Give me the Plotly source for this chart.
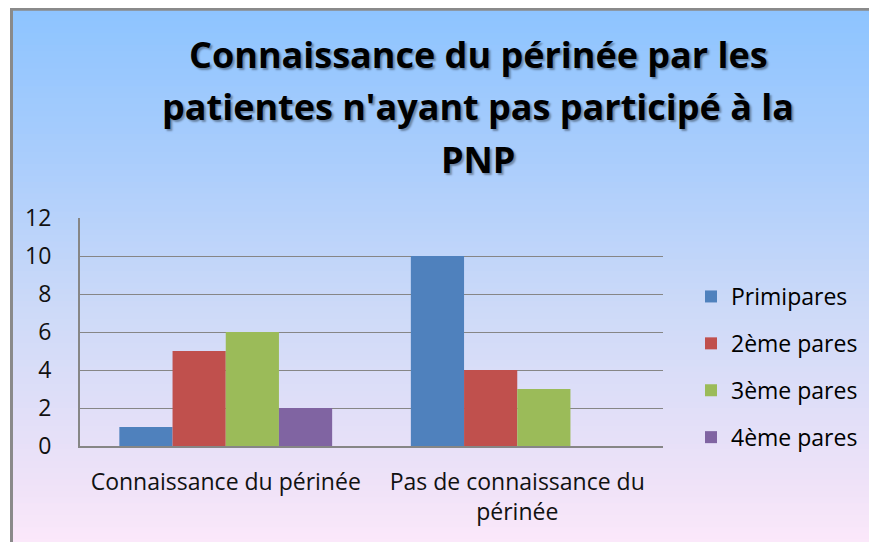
import plotly.graph_objects as go

# ---------------- data ----------------
categories = ["Connaissance du périnée", "Pas de connaissance du périnée"]
tick_labels = ["Connaissance du périnée", "Pas de connaissance du<br>périnée"]
series_names = ["Primipares", "2ème pares", "3ème pares", "4ème pares"]
primipares = [1, 10]
deuxieme = [5, 4]
troisieme = [6, 3]
quatrieme = [2, 0]
y_ticks = [0, 2, 4, 6, 8, 10, 12]
title_lines = ["Connaissance du périnée par les",
               "patientes n'ayant pas participé à la",
               "PNP"]

# ---------------- styling ----------------
OFF = 8                         # page margin around the figure
W, H = 877, 542                 # window size
L, R, T, B = 80, 663, 218, 446  # plot area in window pixels
colors = ["#4F81BD", "#C0504D", "#9BBB59", "#8064A2"]
FONT = "Open Sans"

def px_x(x):
    return (x - L) / (R - L)

def px_y(y):
    return (B - y) / (B - T)

fig = go.Figure()
for name, vals, col in zip(series_names, [primipares, deuxieme, troisieme, quatrieme], colors):
    fig.add_trace(go.Bar(x=categories, y=vals, name=name, marker_color=col,
                         marker_line_width=0, legendgroup=name))

# background gradient (vertical) built from horizontal strips
stops = [(8, (141, 196, 255)), (160, (170, 205, 252)), (310, (205, 218, 248)),
         (480, (238, 226, 248)), (542, (251, 232, 250))]

def col_at(y):
    for (y0, c0), (y1, c1) in zip(stops[:-1], stops[1:]):
        if y0 <= y <= y1:
            t = (y - y0) / (y1 - y0)
            return tuple(round(a + (b - a) * t) for a, b in zip(c0, c1))
    return stops[-1][1]

shapes = []
n = 90
y_top, y_bot = 9, 545
step = (y_bot - y_top) / n
for i in range(n):
    ya = y_top + i * step
    yb = ya + step + 0.8
    c = col_at(ya + step / 2)
    shapes.append(dict(type="rect", xref="paper", yref="paper", layer="below",
                       x0=px_x(11), x1=px_x(W + 10), y0=px_y(yb), y1=px_y(ya),
                       fillcolor="rgb(%d,%d,%d)" % c, line_width=0))
# outer frame
shapes.append(dict(type="rect", xref="paper", yref="paper", layer="below",
                   x0=px_x(11.5), x1=px_x(W + 20), y0=px_y(H + 20), y1=px_y(9.2),
                   fillcolor="rgba(0,0,0,0)", line=dict(color="#8A8A8A", width=3)))

annotations = []
title_y = [54, 107, 159]
for txt, yy in zip(title_lines, title_y):
    annotations.append(dict(text="<b>%s</b>" % txt, xref="paper", yref="paper",
                            x=px_x(478), y=px_y(yy), xanchor="center", yanchor="middle",
                            showarrow=False,
                            font=dict(family=FONT, size=36, color="#000000",
                                      shadow="2px 2px 2px rgba(0,0,0,0.35)")))

fig.update_layout(
    width=W - OFF, height=H - OFF,
    margin=dict(l=L - OFF, r=W - R, t=T - OFF, b=H - B, pad=0),
    paper_bgcolor="white",
    plot_bgcolor="rgba(0,0,0,0)",
    barmode="group", bargap=0.27, bargroupgap=0,
    shapes=shapes, annotations=annotations,
    font=dict(family=FONT, color="#000000"),
    showlegend=True,
    legend=dict(x=px_x(691), y=px_y(275), xanchor="left", yanchor="top",
                bgcolor="rgba(0,0,0,0)", font=dict(family=FONT, size=23, color="#000"),
                tracegroupgap=14, itemclick=False),
)
fig.update_xaxes(tickvals=categories, ticktext=tick_labels, showgrid=False,
                 showline=True, linecolor="#868686", linewidth=2,
                 tickfont=dict(family=FONT, size=23, color="#111"),
                 ticks="", ticklabelstandoff=14)
fig.update_yaxes(range=[0, 12], tickvals=y_ticks, showgrid=True, gridcolor="#868686",
                 gridwidth=1.4, zeroline=False, showline=True, linecolor="#868686",
                 linewidth=2, tickfont=dict(family=FONT, size=23, color="#111"),
                 ticks="", ticklabelstandoff=22)

fig.write_html("out.html")
